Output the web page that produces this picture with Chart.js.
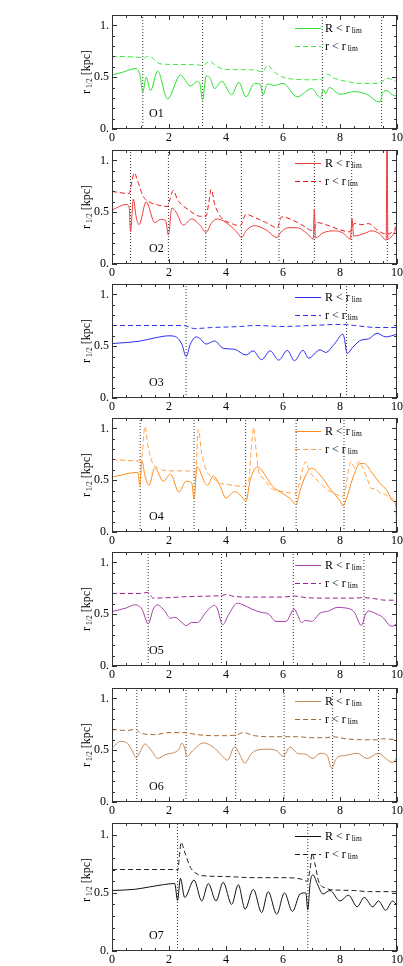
<!DOCTYPE html>
<html>
<head>
<meta charset="utf-8">
<script src="https://cdn.jsdelivr.net/npm/chart.js@4.4.1/dist/chart.umd.min.js"></script>
<style>
  html, body { margin: 0; padding: 0; background: #fff; }
  #wrap { position: relative; width: 403px; height: 966px; overflow: hidden; }
  #wrap canvas { position: absolute; left: 0; }
</style>
</head>
<body>
<div id="wrap"></div>
<script>
// [time Gyr, r_1/2 kpc]
const o1Solid = [[0,0.52],[0.4,0.55],[0.85,0.585],[0.98,0.52],[1.08,0.36],[1.2,0.50],[1.35,0.37],[1.6,0.56],[1.95,0.29],[2.4,0.52],[2.75,0.415],[3.0,0.46],[3.08,0.44],[3.18,0.28],[3.3,0.51],[3.42,0.50],[3.6,0.39],[3.85,0.46],[4.2,0.33],[4.45,0.45],[4.7,0.31],[5.0,0.44],[5.2,0.43],[5.3,0.33],[5.45,0.435],[5.7,0.42],[6.0,0.44],[6.5,0.31],[7.0,0.39],[7.32,0.30],[7.42,0.38],[7.5,0.34],[7.62,0.40],[8.0,0.335],[8.5,0.36],[8.9,0.34],[9.4,0.26],[9.5,0.35],[9.65,0.37],[9.9,0.32],[10,0.32]];
const o1Dashed = [[0,0.70],[1.0,0.69],[1.08,0.68],[1.25,0.70],[1.4,0.69],[1.6,0.64],[1.8,0.625],[3.0,0.62],[3.2,0.61],[3.4,0.655],[3.7,0.60],[4.0,0.575],[5.0,0.57],[5.28,0.55],[5.45,0.615],[5.7,0.55],[6.0,0.50],[6.4,0.48],[7.0,0.475],[7.35,0.48],[7.55,0.53],[7.8,0.49],[8.3,0.455],[8.7,0.44],[9.3,0.44],[9.45,0.45],[9.65,0.49],[10,0.457]];
const o1Events = [1.08, 3.18, 5.27, 7.38, 9.46];

const o2Solid = [[0,0.52],[0.5,0.575],[0.6,0.55],[0.65,0.31],[0.75,0.626],[0.85,0.45],[0.95,0.38],[1.2,0.60],[1.5,0.40],[1.7,0.43],[1.88,0.42],[1.98,0.28],[2.1,0.54],[2.25,0.50],[2.5,0.375],[2.8,0.435],[3.1,0.37],[3.3,0.305],[3.5,0.40],[3.7,0.435],[4.1,0.38],[4.4,0.30],[4.55,0.255],[4.7,0.32],[5.0,0.37],[5.4,0.33],[5.8,0.255],[5.9,0.30],[6.2,0.35],[6.5,0.35],[6.9,0.28],[7.06,0.24],[7.1,0.53],[7.14,0.25],[7.4,0.30],[7.8,0.32],[8.1,0.30],[8.37,0.24],[8.42,0.44],[8.48,0.27],[8.9,0.30],[9.1,0.32],[9.4,0.29],[9.62,0.23],[9.65,1.3],[9.68,0.24],[9.75,0.25],[9.9,0.30],[10,0.37]];
const o2Dashed = [[0,0.70],[0.6,0.68],[0.7,0.80],[0.78,0.88],[0.9,0.80],[1.1,0.65],[1.3,0.60],[1.6,0.57],[1.95,0.555],[2.05,0.64],[2.15,0.71],[2.3,0.62],[2.7,0.52],[3.1,0.46],[3.3,0.46],[3.4,0.60],[3.48,0.72],[3.6,0.58],[3.8,0.46],[4.2,0.39],[4.5,0.37],[4.7,0.48],[5.0,0.45],[5.4,0.40],[5.8,0.35],[5.95,0.455],[6.3,0.43],[6.7,0.37],[7.05,0.32],[7.2,0.40],[7.5,0.38],[8.0,0.33],[8.35,0.31],[8.5,0.39],[8.8,0.38],[9.0,0.39],[9.3,0.33],[9.6,0.29],[9.8,0.30],[10,0.375]];
const o2Events = [0.65, 1.98, 3.29, 4.54, 5.86, 7.10, 8.41, 9.66];

const o3Solid = [[0,0.525],[1.0,0.55],[1.5,0.58],[2.0,0.60],[2.2,0.595],[2.45,0.52],[2.6,0.40],[2.75,0.52],[2.95,0.59],[3.1,0.57],[3.3,0.52],[3.6,0.55],[3.9,0.48],[4.3,0.47],[4.7,0.415],[4.95,0.455],[5.25,0.37],[5.55,0.455],[5.85,0.365],[6.15,0.46],[6.4,0.36],[6.7,0.46],[6.9,0.385],[7.3,0.465],[7.5,0.44],[7.8,0.52],[8.1,0.615],[8.15,0.58],[8.25,0.43],[8.45,0.49],[8.75,0.56],[9.0,0.57],[9.3,0.625],[9.6,0.59],[10,0.615]];
const o3Dashed = [[0,0.70],[2.5,0.70],[2.9,0.67],[3.5,0.68],[4.5,0.69],[5.0,0.70],[6.0,0.69],[7.0,0.70],[8.0,0.71],[8.5,0.70],[9.3,0.68],[10,0.68]];
const o3Events = [2.60, 8.23];

const o4Solid = [[0,0.53],[0.9,0.575],[0.98,0.45],[1.05,0.69],[1.15,0.55],[1.3,0.45],[1.5,0.62],[1.8,0.49],[2.05,0.56],[2.35,0.385],[2.6,0.49],[2.8,0.47],[2.88,0.317],[2.98,0.63],[3.25,0.48],[3.35,0.45],[3.55,0.54],[3.8,0.44],[4.0,0.327],[4.3,0.39],[4.55,0.34],[4.7,0.295],[4.85,0.50],[5.1,0.628],[5.3,0.58],[5.6,0.45],[6.0,0.37],[6.3,0.31],[6.45,0.263],[6.6,0.40],[6.8,0.55],[7.0,0.615],[7.3,0.55],[7.7,0.40],[8.0,0.30],[8.1,0.253],[8.2,0.30],[8.45,0.52],[8.7,0.66],[8.85,0.66],[9.1,0.58],[9.4,0.47],[9.65,0.40],[9.85,0.30],[9.97,0.24],[9.985,0.02],[10,1.3]];
const o4Dashed = [[0,0.70],[0.5,0.69],[0.95,0.686],[1.05,0.72],[1.12,0.96],[1.16,1.02],[1.25,0.85],[1.4,0.68],[1.6,0.62],[2.0,0.59],[2.5,0.59],[2.85,0.58],[2.92,0.50],[3.03,0.99],[3.15,0.75],[3.3,0.60],[3.55,0.52],[3.8,0.47],[4.0,0.46],[4.6,0.44],[4.8,0.50],[4.9,0.85],[4.97,1.01],[5.05,0.80],[5.15,0.58],[5.3,0.52],[5.6,0.42],[6.0,0.39],[6.45,0.37],[6.55,0.45],[6.7,0.62],[6.8,0.68],[6.9,0.60],[7.1,0.526],[7.2,0.50],[7.5,0.42],[7.8,0.37],[8.1,0.346],[8.2,0.42],[8.3,0.60],[8.4,0.68],[8.5,0.62],[8.65,0.68],[8.8,0.62],[9.0,0.48],[9.1,0.417],[9.2,0.42],[9.4,0.38],[9.6,0.36],[9.8,0.32],[9.97,0.26],[9.985,0.02],[10,1.3]];
const o4Events = [0.99, 2.88, 4.69, 6.46, 8.14];

const o5Solid = [[0,0.526],[0.5,0.56],[0.8,0.59],[1.05,0.55],[1.27,0.406],[1.45,0.55],[1.6,0.59],[1.85,0.53],[2.05,0.46],[2.2,0.47],[2.45,0.42],[2.6,0.39],[2.8,0.42],[3.0,0.42],[3.3,0.52],[3.6,0.585],[3.7,0.55],[3.88,0.397],[4.1,0.50],[4.4,0.606],[4.6,0.59],[4.9,0.55],[5.2,0.52],[5.5,0.50],[5.75,0.43],[6.1,0.43],[6.4,0.55],[6.5,0.50],[6.65,0.42],[6.8,0.44],[7.0,0.43],[7.3,0.51],[7.6,0.53],[7.9,0.565],[8.2,0.56],[8.5,0.52],[8.75,0.39],[8.9,0.50],[9.0,0.53],[9.3,0.50],[9.5,0.47],[9.75,0.39],[9.85,0.385],[10,0.41]];
const o5Dashed = [[0,0.70],[1.0,0.70],[1.25,0.71],[1.45,0.655],[2.0,0.66],[2.7,0.67],[3.5,0.675],[3.85,0.68],[4.0,0.69],[4.3,0.67],[5.0,0.665],[6.0,0.665],[6.4,0.675],[6.8,0.66],[7.5,0.655],[8.5,0.655],[8.8,0.66],[9.2,0.65],[9.6,0.635],[10,0.635]];
const o5Events = [1.27, 3.84, 6.36, 8.84];

const o6Solid = [[0,0.52],[0.3,0.584],[0.5,0.575],[0.7,0.50],[0.85,0.43],[1.05,0.52],[1.15,0.56],[1.4,0.49],[1.6,0.42],[1.9,0.46],[2.1,0.47],[2.35,0.51],[2.45,0.568],[2.55,0.52],[2.62,0.44],[2.85,0.50],[3.2,0.57],[3.55,0.53],[3.85,0.45],[4.05,0.403],[4.3,0.532],[4.5,0.45],[4.65,0.374],[4.9,0.47],[5.1,0.50],[5.5,0.51],[5.8,0.49],[6.0,0.44],[6.25,0.53],[6.5,0.47],[6.8,0.46],[7.05,0.42],[7.3,0.47],[7.55,0.45],[7.7,0.33],[7.9,0.43],[8.2,0.45],[8.6,0.47],[8.95,0.42],[9.35,0.47],[9.6,0.42],[9.85,0.38],[10,0.43]];
const o6Dashed = [[0,0.70],[0.5,0.69],[0.85,0.70],[1.0,0.665],[1.5,0.65],[2.0,0.67],[2.5,0.67],[3.0,0.65],[3.5,0.64],[4.0,0.64],[4.4,0.65],[4.6,0.67],[5.0,0.64],[5.5,0.63],[6.0,0.63],[6.5,0.63],[7.0,0.62],[7.5,0.62],[7.75,0.63],[8.2,0.61],[9.0,0.60],[9.35,0.60],[9.5,0.61],[10,0.60]];
const o6Events = [0.87, 2.60, 4.34, 6.04, 7.74, 9.35];

const o7Solid = [[0,0.52],[0.8,0.53],[1.3,0.55],[1.8,0.57],[2.2,0.58],[2.3,0.435],[2.4,0.625],[2.55,0.46],[2.88,0.61],[3.15,0.43],[3.38,0.58],[3.65,0.43],[3.9,0.59],[4.2,0.40],[4.43,0.57],[4.67,0.36],[4.96,0.53],[5.25,0.33],[5.48,0.51],[5.78,0.316],[6.05,0.50],[6.33,0.34],[6.6,0.49],[6.8,0.50],[6.87,0.355],[6.95,0.58],[7.05,0.655],[7.2,0.58],[7.4,0.49],[7.65,0.52],[8.0,0.43],[8.3,0.48],[8.6,0.38],[8.85,0.46],[9.15,0.38],[9.35,0.43],[9.6,0.35],[9.85,0.43],[10,0.39]];
const o7Dashed = [[0,0.70],[2.25,0.70],[2.3,0.69],[2.38,0.85],[2.42,0.935],[2.55,0.85],[2.75,0.72],[3.0,0.66],[3.3,0.645],[4.0,0.64],[5.0,0.63],[6.0,0.63],[6.6,0.62],[6.85,0.60],[6.95,0.70],[7.02,0.84],[7.12,0.75],[7.25,0.60],[7.5,0.54],[7.8,0.525],[8.5,0.52],[9.0,0.51],[9.5,0.51],[10,0.51]];
const o7Events = [2.30, 6.87];

const panelNames = ['O1', 'O2', 'O3', 'O4', 'O5', 'O6', 'O7'];
const solidLabel = 'R < r';
const dashedLabel = 'r < r';

const panels = [
  { solid: o1Solid, dashed: o1Dashed, events: o1Events, solidColor: '#2ee02e', dashColor: '#3ee83e' },
  { solid: o2Solid, dashed: o2Dashed, events: o2Events, solidColor: '#f03c3c', dashColor: '#ee1a1a' },
  { solid: o3Solid, dashed: o3Dashed, events: o3Events, solidColor: '#2a2af0', dashColor: '#3030f0' },
  { solid: o4Solid, dashed: o4Dashed, events: o4Events, solidColor: '#ff8a1a', dashColor: '#ffa040' },
  { solid: o5Solid, dashed: o5Dashed, events: o5Events, solidColor: '#a640a6', dashColor: '#9a1e9a' },
  { solid: o6Solid, dashed: o6Dashed, events: o6Events, solidColor: '#c48a58', dashColor: '#a8662e' },
  { solid: o7Solid, dashed: o7Dashed, events: o7Events, solidColor: '#111111', dashColor: '#222222' }
];

const panelTops = [15, 150, 284, 418, 552, 688, 823];
const serif = '"Liberation Serif", "DejaVu Serif", serif';
const wrap = document.getElementById('wrap');

// frame, inside ticks, legend, panel name and axis titles
const panelDecor = {
  id: 'panelDecor',
  afterDraw(chart, args, o) {
    const { ctx, chartArea: a, scales: { x, y } } = chart;
    ctx.save();
    ctx.strokeStyle = '#333';
    ctx.lineWidth = 1;
    ctx.setLineDash([]);
    ctx.strokeRect(a.left + 0.5, a.top + 0.5, a.width - 1, a.height - 1);

    ctx.beginPath();
    x.ticks.forEach(t => {
      const px = Math.round(x.getPixelForValue(t.value)) + 0.5;
      const len = t.label ? 5 : 3;
      ctx.moveTo(px, a.bottom); ctx.lineTo(px, a.bottom - len);
      ctx.moveTo(px, a.top); ctx.lineTo(px, a.top + len);
    });
    y.ticks.forEach(t => {
      const py = Math.round(y.getPixelForValue(t.value)) + 0.5;
      const len = t.label ? 5 : 3;
      ctx.moveTo(a.left, py); ctx.lineTo(a.left + len, py);
      ctx.moveTo(a.right, py); ctx.lineTo(a.right - len, py);
    });
    ctx.stroke();

    // legend
    const rows = [
      { text: solidLabel, color: o.solidColor, dash: [] , dy: 13 },
      { text: dashedLabel, color: o.dashColor, dash: [5, 3], dy: 31 }
    ];
    ctx.textBaseline = 'middle';
    rows.forEach(r => {
      const ry = a.top + r.dy + 0.5;
      ctx.strokeStyle = r.color;
      ctx.setLineDash(r.dash);
      ctx.beginPath();
      ctx.moveTo(a.right - 102, ry);
      ctx.lineTo(a.right - 76, ry);
      ctx.stroke();
      ctx.setLineDash([]);
      ctx.fillStyle = '#000';
      ctx.font = '12px ' + serif;
      ctx.fillText(r.text, a.right - 72, ry);
      const w = ctx.measureText(r.text).width;
      ctx.font = '7.5px ' + serif;
      ctx.fillText('lim', a.right - 72 + w + 2, ry + 3);
    });

    // panel name
    ctx.font = '12px ' + serif;
    ctx.fillText(o.name, a.left + 37, a.bottom - 15);

    // y title: r_1/2 [kpc]
    ctx.save();
    ctx.translate(87, a.top + 57);
    ctx.rotate(-Math.PI / 2);
    ctx.font = '12px ' + serif;
    const wr = ctx.measureText('r').width;
    const wk = ctx.measureText(' [kpc]').width;
    ctx.font = '7.5px ' + serif;
    const ws = ctx.measureText('1/2').width;
    let sx = -(wr + 2 + ws + wk) / 2;
    ctx.font = '12px ' + serif;
    ctx.fillText('r', sx, 0);
    ctx.font = '7.5px ' + serif;
    ctx.fillText('1/2', sx + wr + 2, 3);
    ctx.font = '12px ' + serif;
    ctx.fillText(' [kpc]', sx + wr + 2 + ws, 0);
    ctx.restore();

    if (o.xTitle) {
      ctx.textAlign = 'center';
      ctx.fillText(o.xTitle, a.left + 131, a.bottom + 21);
    }
    ctx.restore();
  }
};

function makePanel(p, i) {
  const last = i === panels.length - 1;
  const canvas = document.createElement('canvas');
  canvas.width = 403;
  canvas.height = last ? 159 : 145;
  canvas.style.top = (panelTops[i] - 15) + 'px';
  wrap.appendChild(canvas);

  const toPts = arr => arr.map(([x, y]) => ({ x, y }));
  const eventPts = [];
  p.events.forEach(t => eventPts.push({ x: t, y: 0 }, { x: t, y: 1.1 }, { x: t, y: null }));

  new Chart(canvas, {
    type: 'line',
    data: {
      datasets: [
        { label: solidLabel, data: toPts(p.solid), borderColor: p.solidColor, borderWidth: 1,
          pointRadius: 0, cubicInterpolationMode: 'monotone', tension: 0.4 },
        { label: dashedLabel, data: toPts(p.dashed), borderColor: p.dashColor, borderWidth: 1,
          borderDash: [5, 3], pointRadius: 0, cubicInterpolationMode: 'monotone', tension: 0.4 },
        { label: 'events', data: eventPts, borderColor: '#333', borderWidth: 1,
          borderDash: [1, 2], pointRadius: 0, tension: 0, spanGaps: false }
      ]
    },
    options: {
      responsive: false,
      animation: false,
      layout: { padding: { top: 15, right: 6, left: 0, bottom: 0 } },
      plugins: {
        legend: { display: false },
        tooltip: { enabled: false },
        panelDecor: {
          name: panelNames[i], solidColor: p.solidColor, dashColor: p.dashColor,
          xTitle: last ? 'time [Gyr]' : ''
        }
      },
      scales: {
        x: {
          type: 'linear', min: 0, max: 10,
          grid: { display: false, drawTicks: false },
          border: { display: false },
          ticks: {
            stepSize: 0.5, autoSkip: false, maxRotation: 0, padding: 2, color: '#000',
            font: { family: serif, size: 12 },
            callback: v => (Math.abs(v % 2) < 1e-9 ? String(v) : '')
          },
          afterFit: s => { s.height = 16; s.paddingLeft = 0; s.paddingRight = 0; }
        },
        y: {
          type: 'linear', min: 0, max: 1.1,
          grid: { display: false, drawTicks: false },
          border: { display: false },
          ticks: {
            stepSize: 0.1, autoSkip: false, padding: 3, color: '#000',
            font: { family: serif, size: 12 },
            callback: v => {
              const k = Math.round(v * 10);
              return k === 0 ? '0.' : k === 5 ? '0.5' : k === 10 ? '1.' : '';
            }
          },
          afterFit: s => { s.width = 112; s.paddingTop = 0; s.paddingBottom = 0; }
        }
      }
    },
    plugins: [panelDecor]
  });
}

panels.forEach(makePanel);
</script>
</body>
</html>
